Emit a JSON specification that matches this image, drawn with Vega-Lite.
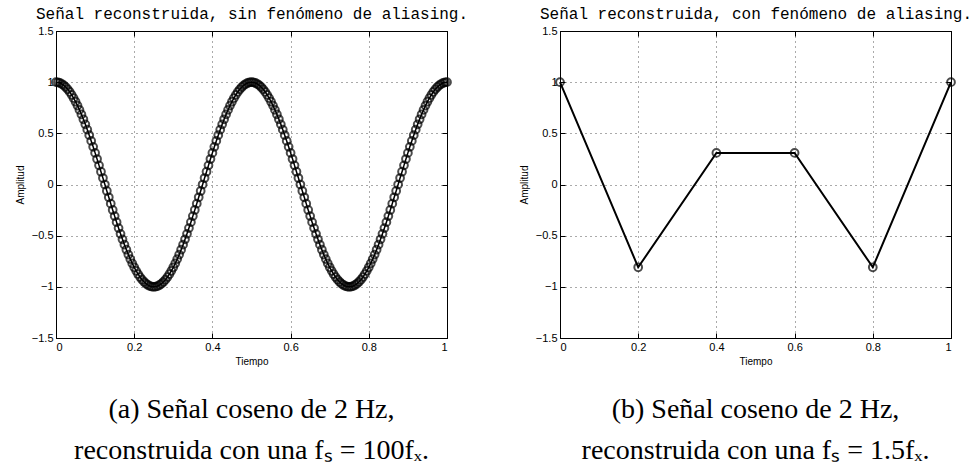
{
  "$schema": "https://vega.github.io/schema/vega-lite/v6.json",
  "autosize": {"type": "pad"},
  "padding": {"left": 14, "top": 5, "right": 5, "bottom": 0},
  "background": "white",
  "config": {
    "view": {"stroke": "black", "strokeWidth": 1},
    "axis": {
      "domainColor": "black",
      "tickColor": "black",
      "tickSize": -5,
      "labelPadding": 8,
      "labelFont": "Liberation Sans",
      "labelFontSize": 11,
      "labelColor": "black",
      "format": "~g",
      "titleFont": "Liberation Sans",
      "titleFontSize": 10,
      "titleFontWeight": "normal",
      "titleColor": "black",
      "gridColor": "#555555",
      "gridDash": [1, 4],
      "gridOpacity": 1
    },
    "title": {"font": "Liberation Serif", "fontSize": 28, "fontWeight": "normal", "color": "black", "lineHeight": 41}
  },
  "datasets": {
    "a": [
      {"t":0,"a":1},{"t":0.005,"a":0.998},{"t":0.01,"a":0.992},{"t":0.015,"a":0.982},{"t":0.02,"a":0.969},{"t":0.025,"a":0.951},{"t":0.03,"a":0.93},{"t":0.035,"a":0.905},{"t":0.04,"a":0.876},{"t":0.045,"a":0.844},
      {"t":0.05,"a":0.809},{"t":0.055,"a":0.771},{"t":0.06,"a":0.729},{"t":0.065,"a":0.685},{"t":0.07,"a":0.637},{"t":0.075,"a":0.588},{"t":0.08,"a":0.536},{"t":0.085,"a":0.482},{"t":0.09,"a":0.426},{"t":0.095,"a":0.368},
      {"t":0.1,"a":0.309},{"t":0.105,"a":0.249},{"t":0.11,"a":0.187},{"t":0.115,"a":0.125},{"t":0.12,"a":0.063},{"t":0.125,"a":0},{"t":0.13,"a":-0.063},{"t":0.135,"a":-0.125},{"t":0.14,"a":-0.187},{"t":0.145,"a":-0.249},
      {"t":0.15,"a":-0.309},{"t":0.155,"a":-0.368},{"t":0.16,"a":-0.426},{"t":0.165,"a":-0.482},{"t":0.17,"a":-0.536},{"t":0.175,"a":-0.588},{"t":0.18,"a":-0.637},{"t":0.185,"a":-0.685},{"t":0.19,"a":-0.729},{"t":0.195,"a":-0.771},
      {"t":0.2,"a":-0.809},{"t":0.205,"a":-0.844},{"t":0.21,"a":-0.876},{"t":0.215,"a":-0.905},{"t":0.22,"a":-0.93},{"t":0.225,"a":-0.951},{"t":0.23,"a":-0.969},{"t":0.235,"a":-0.982},{"t":0.24,"a":-0.992},{"t":0.245,"a":-0.998},
      {"t":0.25,"a":-1},{"t":0.255,"a":-0.998},{"t":0.26,"a":-0.992},{"t":0.265,"a":-0.982},{"t":0.27,"a":-0.969},{"t":0.275,"a":-0.951},{"t":0.28,"a":-0.93},{"t":0.285,"a":-0.905},{"t":0.29,"a":-0.876},{"t":0.295,"a":-0.844},
      {"t":0.3,"a":-0.809},{"t":0.305,"a":-0.771},{"t":0.31,"a":-0.729},{"t":0.315,"a":-0.685},{"t":0.32,"a":-0.637},{"t":0.325,"a":-0.588},{"t":0.33,"a":-0.536},{"t":0.335,"a":-0.482},{"t":0.34,"a":-0.426},{"t":0.345,"a":-0.368},
      {"t":0.35,"a":-0.309},{"t":0.355,"a":-0.249},{"t":0.36,"a":-0.187},{"t":0.365,"a":-0.125},{"t":0.37,"a":-0.063},{"t":0.375,"a":0},{"t":0.38,"a":0.063},{"t":0.385,"a":0.125},{"t":0.39,"a":0.187},{"t":0.395,"a":0.249},
      {"t":0.4,"a":0.309},{"t":0.405,"a":0.368},{"t":0.41,"a":0.426},{"t":0.415,"a":0.482},{"t":0.42,"a":0.536},{"t":0.425,"a":0.588},{"t":0.43,"a":0.637},{"t":0.435,"a":0.685},{"t":0.44,"a":0.729},{"t":0.445,"a":0.771},
      {"t":0.45,"a":0.809},{"t":0.455,"a":0.844},{"t":0.46,"a":0.876},{"t":0.465,"a":0.905},{"t":0.47,"a":0.93},{"t":0.475,"a":0.951},{"t":0.48,"a":0.969},{"t":0.485,"a":0.982},{"t":0.49,"a":0.992},{"t":0.495,"a":0.998},
      {"t":0.5,"a":1},{"t":0.505,"a":0.998},{"t":0.51,"a":0.992},{"t":0.515,"a":0.982},{"t":0.52,"a":0.969},{"t":0.525,"a":0.951},{"t":0.53,"a":0.93},{"t":0.535,"a":0.905},{"t":0.54,"a":0.876},{"t":0.545,"a":0.844},
      {"t":0.55,"a":0.809},{"t":0.555,"a":0.771},{"t":0.56,"a":0.729},{"t":0.565,"a":0.685},{"t":0.57,"a":0.637},{"t":0.575,"a":0.588},{"t":0.58,"a":0.536},{"t":0.585,"a":0.482},{"t":0.59,"a":0.426},{"t":0.595,"a":0.368},
      {"t":0.6,"a":0.309},{"t":0.605,"a":0.249},{"t":0.61,"a":0.187},{"t":0.615,"a":0.125},{"t":0.62,"a":0.063},{"t":0.625,"a":0},{"t":0.63,"a":-0.063},{"t":0.635,"a":-0.125},{"t":0.64,"a":-0.187},{"t":0.645,"a":-0.249},
      {"t":0.65,"a":-0.309},{"t":0.655,"a":-0.368},{"t":0.66,"a":-0.426},{"t":0.665,"a":-0.482},{"t":0.67,"a":-0.536},{"t":0.675,"a":-0.588},{"t":0.68,"a":-0.637},{"t":0.685,"a":-0.685},{"t":0.69,"a":-0.729},{"t":0.695,"a":-0.771},
      {"t":0.7,"a":-0.809},{"t":0.705,"a":-0.844},{"t":0.71,"a":-0.876},{"t":0.715,"a":-0.905},{"t":0.72,"a":-0.93},{"t":0.725,"a":-0.951},{"t":0.73,"a":-0.969},{"t":0.735,"a":-0.982},{"t":0.74,"a":-0.992},{"t":0.745,"a":-0.998},
      {"t":0.75,"a":-1},{"t":0.755,"a":-0.998},{"t":0.76,"a":-0.992},{"t":0.765,"a":-0.982},{"t":0.77,"a":-0.969},{"t":0.775,"a":-0.951},{"t":0.78,"a":-0.93},{"t":0.785,"a":-0.905},{"t":0.79,"a":-0.876},{"t":0.795,"a":-0.844},
      {"t":0.8,"a":-0.809},{"t":0.805,"a":-0.771},{"t":0.81,"a":-0.729},{"t":0.815,"a":-0.685},{"t":0.82,"a":-0.637},{"t":0.825,"a":-0.588},{"t":0.83,"a":-0.536},{"t":0.835,"a":-0.482},{"t":0.84,"a":-0.426},{"t":0.845,"a":-0.368},
      {"t":0.85,"a":-0.309},{"t":0.855,"a":-0.249},{"t":0.86,"a":-0.187},{"t":0.865,"a":-0.125},{"t":0.87,"a":-0.063},{"t":0.875,"a":0},{"t":0.88,"a":0.063},{"t":0.885,"a":0.125},{"t":0.89,"a":0.187},{"t":0.895,"a":0.249},
      {"t":0.9,"a":0.309},{"t":0.905,"a":0.368},{"t":0.91,"a":0.426},{"t":0.915,"a":0.482},{"t":0.92,"a":0.536},{"t":0.925,"a":0.588},{"t":0.93,"a":0.637},{"t":0.935,"a":0.685},{"t":0.94,"a":0.729},{"t":0.945,"a":0.771},
      {"t":0.95,"a":0.809},{"t":0.955,"a":0.844},{"t":0.96,"a":0.876},{"t":0.965,"a":0.905},{"t":0.97,"a":0.93},{"t":0.975,"a":0.951},{"t":0.98,"a":0.969},{"t":0.985,"a":0.982},{"t":0.99,"a":0.992},{"t":0.995,"a":0.998},
      {"t":1,"a":1}
    ],
    "b": [
      {"t":0,"a":1},{"t":0.2,"a":-0.809},{"t":0.4,"a":0.309},{"t":0.6,"a":0.309},{"t":0.8,"a":-0.809},{"t":1,"a":1}
    ]
  },
  "bounds": "flush",
  "spacing": 113,
  "hconcat": [
    {
      "width": 391,
      "height": 307,
      "data": {"name": "a"},
      "title": {"text": ["(a) Señal coseno de 2 Hz,", "reconstruida con una fₛ = 100fₓ."], "orient": "bottom", "anchor": "middle", "offset": 30},
      "resolve": {"axis": {"x": "independent", "y": "independent"}},
      "layer": [
        {
          "mark": {"type": "line", "color": "black", "strokeWidth": 1.5},
          "encoding": {
            "x": {"field": "t", "type": "quantitative", "scale": {"domain": [0, 1], "nice": false, "zero": false},
                  "axis": {"orient": "bottom", "values": [0, 0.2, 0.4, 0.6, 0.8, 1], "title": "Tiempo", "titlePadding": 4, "grid": true}},
            "y": {"field": "a", "type": "quantitative", "scale": {"domain": [-1.5, 1.5], "nice": false, "zero": false},
                  "axis": {"orient": "left", "values": [-1.5, -1, -0.5, 0, 0.5, 1, 1.5], "title": "Amplitud", "titlePadding": 6, "grid": true}}
          }
        },
        {
          "mark": {"type": "point", "shape": "circle", "filled": false, "color": "black", "size": 60, "strokeWidth": 2},
          "encoding": {
            "x": {"field": "t", "type": "quantitative", "axis": {"orient": "top", "values": [0, 0.2, 0.4, 0.6, 0.8, 1], "labels": false, "grid": false, "title": "Señal reconstruida, sin fenómeno de aliasing.", "titleFont": "Liberation Mono", "titleFontSize": 16, "titlePadding": 9}},
            "y": {"field": "a", "type": "quantitative", "axis": {"orient": "right", "values": [-1.5, -1, -0.5, 0, 0.5, 1, 1.5], "labels": false, "grid": false, "title": null}}
          }
        }
      ]
    },
    {
      "width": 391,
      "height": 307,
      "data": {"name": "b"},
      "title": {"text": ["(b) Señal coseno de 2 Hz,", "reconstruida con una fₛ = 1.5fₓ."], "orient": "bottom", "anchor": "middle", "offset": 30},
      "resolve": {"axis": {"x": "independent", "y": "independent"}},
      "layer": [
        {
          "mark": {"type": "line", "color": "black", "strokeWidth": 2},
          "encoding": {
            "x": {"field": "t", "type": "quantitative", "scale": {"domain": [0, 1], "nice": false, "zero": false},
                  "axis": {"orient": "bottom", "values": [0, 0.2, 0.4, 0.6, 0.8, 1], "title": "Tiempo", "titlePadding": 4, "grid": true}},
            "y": {"field": "a", "type": "quantitative", "scale": {"domain": [-1.5, 1.5], "nice": false, "zero": false},
                  "axis": {"orient": "left", "values": [-1.5, -1, -0.5, 0, 0.5, 1, 1.5], "title": "Amplitud", "titlePadding": 6, "grid": true}}
          }
        },
        {
          "mark": {"type": "point", "shape": "circle", "filled": false, "color": "black", "size": 60, "strokeWidth": 2},
          "encoding": {
            "x": {"field": "t", "type": "quantitative", "axis": {"orient": "top", "values": [0, 0.2, 0.4, 0.6, 0.8, 1], "labels": false, "grid": false, "title": "Señal reconstruida, con fenómeno de aliasing.", "titleFont": "Liberation Mono", "titleFontSize": 16, "titlePadding": 9}},
            "y": {"field": "a", "type": "quantitative", "axis": {"orient": "right", "values": [-1.5, -1, -0.5, 0, 0.5, 1, 1.5], "labels": false, "grid": false, "title": null}}
          }
        }
      ]
    }
  ]
}
